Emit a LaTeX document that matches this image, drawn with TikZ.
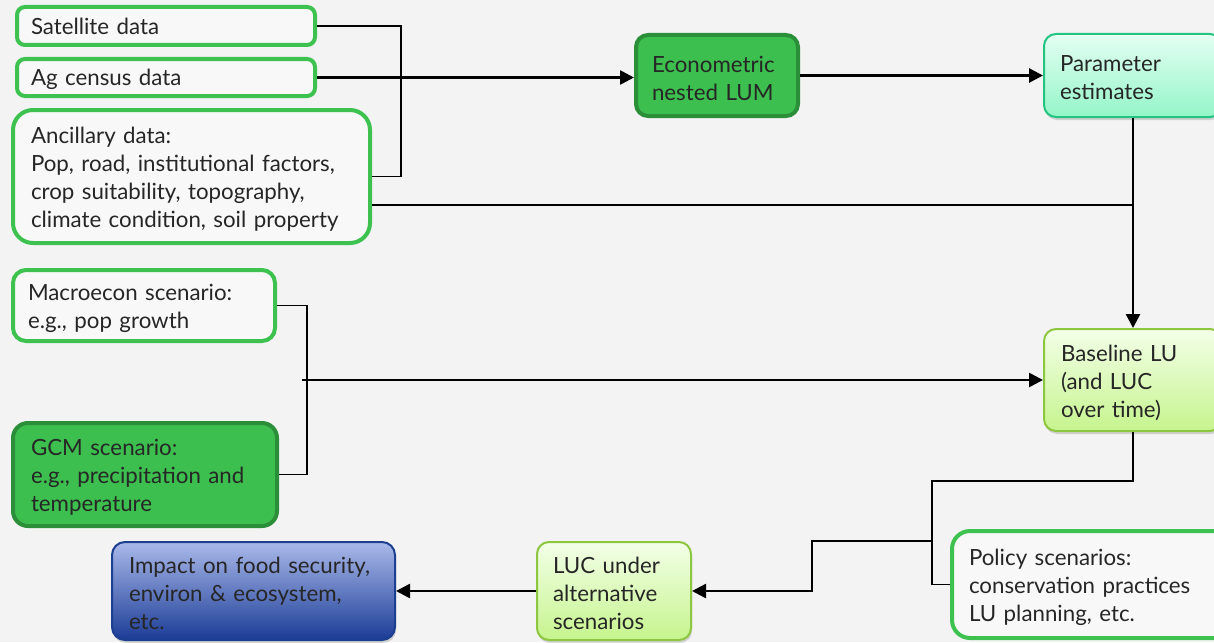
\documentclass[tikz,border=0pt]{standalone}
\usepackage{fontspec}
\setmainfont{Lato}
\usetikzlibrary{arrows.meta,shadows}
\definecolor{bg}{HTML}{F3F3F3}
\definecolor{lgreen}{HTML}{3DC24F}
\definecolor{dgreen}{HTML}{2B8E38}
\definecolor{fgreen}{HTML}{3CBF4E}
\definecolor{mintT}{HTML}{E4FFF3}
\definecolor{mintB}{HTML}{94F5C8}
\definecolor{mintD}{HTML}{22C47F}
\definecolor{limeT}{HTML}{F3FFE8}
\definecolor{limeB}{HTML}{C6F48E}
\definecolor{limeD}{HTML}{8DC63F}
\definecolor{blueT}{HTML}{AAB9EA}
\definecolor{blueB}{HTML}{1B3C96}
\definecolor{blueD}{HTML}{1D3F8F}
\definecolor{txt}{HTML}{262626}
\tikzset{
  box/.style={align=left, text=txt, font=\fontsize{22.3}{28}\selectfont, inner ysep=0pt,
     execute at end node={\vspace*{-5pt}}},
  lightbox/.style={box, draw=lgreen, line width=4pt, fill=bg!60!white},
  darkbox/.style={box, draw=dgreen, line width=4pt, fill=fgreen},
  mintbox/.style={box, draw=mintD, line width=2pt, top color=mintT, bottom color=mintB,
     drop shadow={shadow xshift=1pt, shadow yshift=-3pt, opacity=0.3}},
  limebox/.style={box, draw=limeD, line width=2pt, top color=limeT, bottom color=limeB,
     drop shadow={shadow xshift=1pt, shadow yshift=-3pt, opacity=0.3}},
  bluebox/.style={box, draw=blueD, line width=2pt, top color=blueT, bottom color=blueB,
     drop shadow={shadow xshift=1pt, shadow yshift=-3pt, opacity=0.3}},
  thinline/.style={line width=1.8pt, black},
  arr/.style={line width=2.6pt, black, -{Triangle[length=14pt,width=14pt]}}
}
\begin{document}
\begin{tikzpicture}[x=1pt,y=-1pt]
\useasboundingbox (0,0) rectangle (1214,642);
\clip (0,0) rectangle (1214,642);
\fill[bg] (0,0) rectangle (1214,642);

% nodes
\node[lightbox, rounded corners=8pt, text width=270pt, inner xsep=14pt, minimum height=38pt] (sat) at (166,26) {Satellite data};
\node[lightbox, rounded corners=8pt, text width=270pt, inner xsep=14pt, minimum height=37pt] (ag) at (166,77.5) {Ag census data};
\node[lightbox, rounded corners=20pt, text width=321pt, inner xsep=18pt, minimum height=133pt] (anc) at (191.5,176.5) {Ancillary data:\\Pop, road, institutional factors,\\crop suitability, topography,\\climate condition, soil property};
\node[darkbox, rounded corners=12pt, text width=130pt, inner xsep=16pt, minimum height=81pt] (eco) at (717,75.5) {Econometric\\nested LUM};
\node[mintbox, rounded corners=12pt, text width=146pt, inner xsep=16pt, minimum height=83pt] (par) at (1133,75.5) {Parameter\\estimates};
\node[lightbox, rounded corners=13pt, text width=232pt, inner xsep=15pt, minimum height=71pt] (mac) at (144,305.5) {Macroecon scenario:\\e.g., pop growth};
\node[darkbox, rounded corners=15pt, text width=228pt, inner xsep=18pt, minimum height=103pt] (gcm) at (145,474.5) {GCM scenario:\\e.g., precipitation and\\temperature};
\node[limebox, rounded corners=12pt, text width=144pt, inner xsep=17pt, minimum height=102pt] (base) at (1133,380) {Baseline LU\\(and LUC\\over time)};
\node[lightbox, rounded corners=18pt, text width=246pt, inner xsep=17pt, minimum height=107pt] (pol) at (1092,584.5) {Policy scenarios:\\conservation practices\\LU planning, etc.};
\node[limebox, rounded corners=12pt, text width=122pt, inner xsep=16pt, minimum height=98pt] (luc) at (614,591) {LUC under\\alternative\\scenarios};
\node[bluebox, rounded corners=13pt, text width=249pt, inner xsep=17pt, minimum height=98pt] (imp) at (253.5,591) {Impact on food security,\\environ \& ecosystem,\\etc.};

% junction coordinates
\coordinate (j1) at (401,26);
\coordinate (j2) at (1133,205);
\coordinate (j3) at (307,305.5);
\coordinate (j4) at (302,380);
\coordinate (j5) at (932,481);
\coordinate (j6) at (932,541);
\coordinate (j7) at (812,541);

% connectors
\draw[thinline] (sat.east) -- (j1) |- (anc.east);
\draw[arr] (ag.east) -- (ag.east -| eco.west);
\draw[arr] (eco.east) -- (par.west);
\draw[thinline] (anc.east |- j2) -- (j2);
\draw[arr] (par.south) -- (base.north);
\draw[thinline] (mac.east) -- (j3) |- (gcm.east);
\draw[arr] (j4) -- (j4 -| base.west);
\draw[thinline] (base.south) |- (j5) |- (pol.west);
\draw[arr] (j6) -- (j7) |- (luc.east);
\draw[arr] (luc.west) -- (imp.east);
\end{tikzpicture}
\end{document}
